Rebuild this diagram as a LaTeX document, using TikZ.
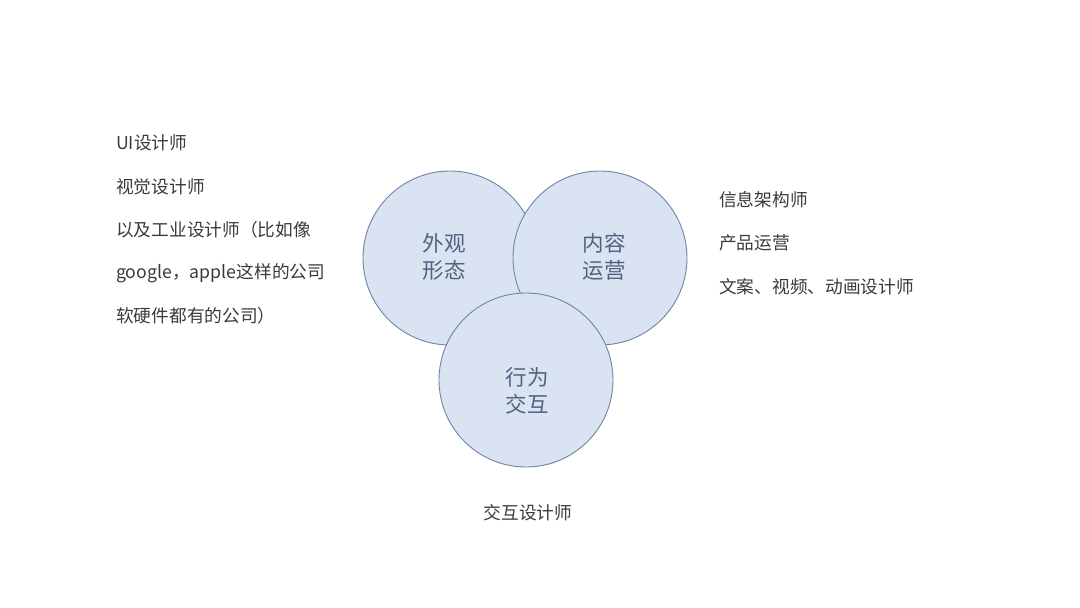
\documentclass[tikz,border=0pt]{standalone}
\usepackage{fontspec}
\setmainfont{Noto Sans CJK SC}
\definecolor{ringfill}{HTML}{DAE3F2}
\definecolor{ringline}{HTML}{6F84A6}
\definecolor{ringtext}{HTML}{52627F}
\definecolor{listtext}{HTML}{3A3A3A}
\tikzset{
  ring/.style={circle, draw=ringline, fill=ringfill, line width=0.9pt, minimum size=174pt, inner sep=0pt},
  ringlabel/.style={inner sep=0pt, font=\fontsize{21.5}{27}\selectfont, text=ringtext, align=center},
  role/.style={anchor=west, inner sep=0pt, font=\fontsize{17.7}{20}\selectfont, text=listtext}
}
\begin{document}
\begin{tikzpicture}[x=1pt, y=-1pt]
        \useasboundingbox (0,0) rectangle (1080,608);
        % Circles
        \node (look) [ring] at (450,258) {};
        \node (content) [ring] at (600,258) {};
        \node (action) [ring] at (526,380) {};

        % Circle labels
        \node (lookname) [ringlabel] at (444,257) {外观\\形态};
        \node (contentname) [ringlabel] at (604,257) {内容\\运营};
        \node (actionname) [ringlabel] at (527,391) {行为\\交互};

        % Roles
        \node (ui) [role] at (116,143) {UI设计师};
        \node (visual) [role] at (116,187) {视觉设计师};
        \node (industry) [role] at (116,230) {以及工业设计师（比如像};
        \node (brands) [role] at (116,273) {google，apple这样的公司};
        \node (hardsoft) [role] at (116,316) {软硬件都有的公司）};

        \node (info) [role] at (719,200) {信息架构师};
        \node (product) [role] at (719,243) {产品运营};
        \node (copy) [role] at (719,287) {文案、视频、动画设计师};

        \node (interact) [role, anchor=center] at (528,513) {交互设计师};
    \end{tikzpicture}
\end{document}
